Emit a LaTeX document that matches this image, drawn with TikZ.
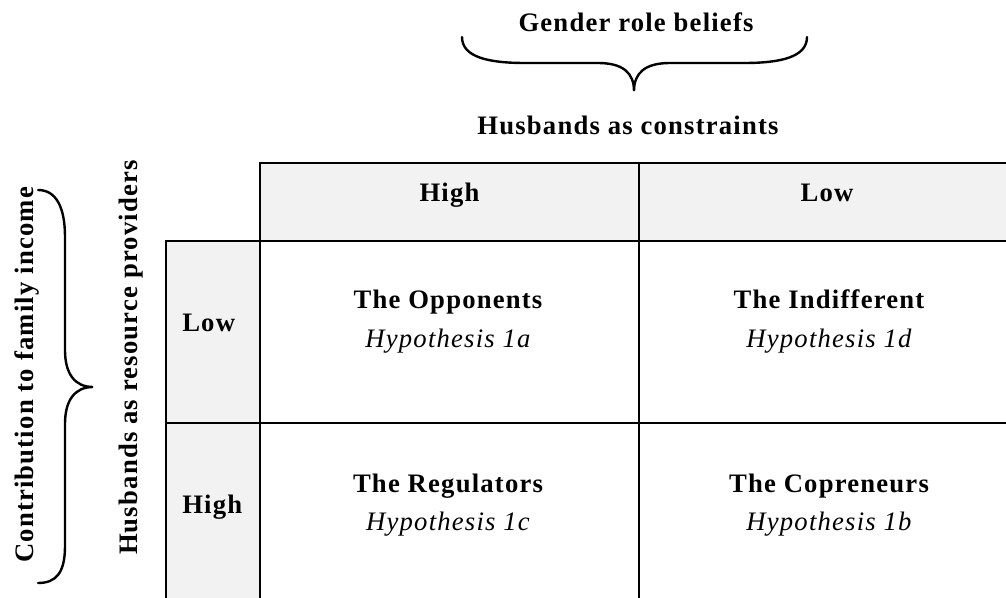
\documentclass[tikz,border=0pt]{standalone}
\usepackage{fontspec}
\setmainfont{Liberation Serif}[LetterSpace=4.5]
\definecolor{cellgray}{HTML}{F2F2F2}
\begin{document}
\begin{tikzpicture}[x=0.75pt,y=-0.75pt]
\tikzset{
  gridline/.style={line width=2.1pt, draw=black, line join=miter},
  bracepath/.style={line width=1.8pt, draw=black, line cap=round},
  lbl/.style={anchor=base, inner sep=0pt, font=\fontsize{20}{24}\selectfont\bfseries},
  hyp/.style={anchor=base, inner sep=0pt, font=\fontsize{20}{24}\selectfont\itshape}
}
\useasboundingbox (0,0) rectangle (1006,598);
\clip (0,0) rectangle (1006,598);
% grid corner coordinates
\coordinate (hTL) at (260,163);
\coordinate (hTM) at (639,163);
\coordinate (hTR) at (1012,163);
\coordinate (lTL) at (166,241);
\coordinate (lML) at (166,423);
\coordinate (lBL) at (166,604);
\coordinate (cBL) at (260,604);
\coordinate (mBL) at (639,604);
\coordinate (rR1) at (1012,241);
\coordinate (rR2) at (1012,423);
% fills
\fill[cellgray] (hTL) rectangle (rR1);
\fill[cellgray] (lTL) rectangle (cBL);
% lines
\draw[gridline] (cBL) -- (hTL) -- (hTR);
\draw[gridline] (lBL) -- (lTL) -- (rR1);
\draw[gridline] (lML) -- (rR2);
\draw[gridline] (hTM) -- (mBL);
% top brace
\coordinate (tbL) at (462,37);
\coordinate (tbT) at (634,91);
\coordinate (tbR) at (807,37);
\draw[bracepath] (tbL) .. controls (462,57) and (488,63) .. (525,63) -- (598,63)
  .. controls (623,63) and (634,73) .. (tbT)
  .. controls (634,73) and (645,63) .. (670,63) -- (744,63)
  .. controls (781,63) and (807,57) .. (tbR);
% left brace
\coordinate (lbT) at (38,190);
\coordinate (lbP) at (93,387);
\coordinate (lbB) at (38,583);
\draw[bracepath] (lbT) .. controls (56,190) and (65,207) .. (65,237) -- (65,350)
  .. controls (65,374) and (75,387) .. (lbP)
  .. controls (75,387) and (65,400) .. (65,424) -- (65,546)
  .. controls (65,573) and (56,583) .. (lbB);
% texts
\node[lbl] (gender) at (636,32) {Gender role beliefs};
\node[lbl] (constr) at (628,135) {Husbands as constraints};
\node[lbl] (hHigh) at (449.5,202) {High};
\node[lbl] (hLow) at (827,202) {Low};
\node[lbl, anchor=base west] (rLow) at (182,332) {Low};
\node[lbl, anchor=base west] (rHigh) at (182,513) {High};
\node[lbl] (opp) at (448,309) {The Opponents};
\node[hyp] (h1a) at (448,348) {Hypothesis 1a};
\node[lbl] (ind) at (829,309) {The Indifferent};
\node[hyp] (h1d) at (829,348) {Hypothesis 1d};
\node[lbl] (reg) at (448,492) {The Regulators};
\node[hyp] (h1c) at (448,530) {Hypothesis 1c};
\node[lbl] (cop) at (829,492) {The Copreneurs};
\node[hyp] (h1b) at (829,530) {Hypothesis 1b};
\node[lbl, rotate=90] (prov) at (137,357.5) {Husbands as resource providers};
\node[lbl, rotate=90] (contrib) at (33,375) {Contribution to family income};
\end{tikzpicture}
\end{document}
